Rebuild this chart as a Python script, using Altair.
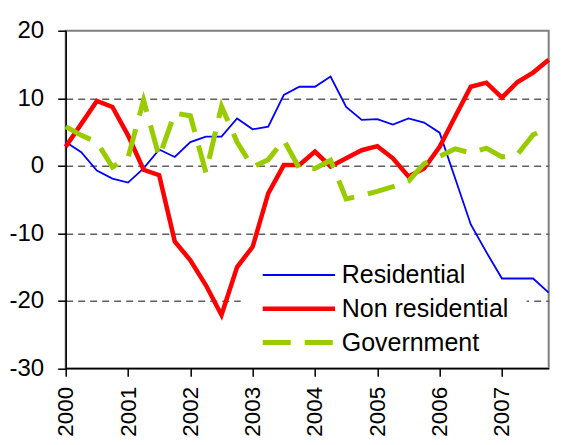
import altair as alt
import pandas as pd

# ---- data (quarterly, 2000Q1 .. 2007Q4), y-o-y % change ----
quarters = [2000.0, 2000.25, 2000.5, 2000.75,
            2001.0, 2001.25, 2001.5, 2001.75,
            2002.0, 2002.25, 2002.5, 2002.75,
            2003.0, 2003.25, 2003.5, 2003.75,
            2004.0, 2004.25, 2004.5, 2004.75,
            2005.0, 2005.25, 2005.5, 2005.75,
            2006.0, 2006.25, 2006.5, 2006.75,
            2007.0, 2007.25, 2007.5, 2007.75]

residential = [3.5, 2.0, -0.7, -1.9, -2.5, -0.4, 2.4, 1.3,
               3.5, 4.3, 4.3, 7.0, 5.4, 5.8, 10.5, 11.7,
               11.7, 13.2, 8.7, 6.8, 6.9, 6.1, 7.0, 6.4,
               4.9, -1.9, -8.7, -12.8, -16.7, -16.7, -16.7, -18.8]

non_residential = [2.8, 6.2, 9.6, 8.7, 4.5, -0.6, -1.4, -11.2,
                   -14.0, -17.7, -22.1, -15.0, -12.0, -4.1, 0.1, 0.1,
                   2.1, -0.1, 1.1, 2.3, 2.9, 1.1, -1.6, -0.4,
                   2.8, 7.3, 11.7, 12.3, 10.1, 12.4, 13.8, 15.7]

government = [5.8, 4.5, 3.5, -0.2, 1.2, 9.7, 1.3, 7.8,
              7.4, -1.0, 8.8, 3.5, -0.2, 0.9, 3.8, -0.4,
              -0.4, 0.8, -4.9, -4.4, -3.8, -3.1, -2.3, 0.3,
              1.4, 2.5, 1.9, 2.6, 1.3, 1.7, 4.6, 5.6]

series_names = ["Residential", "Non residential", "Government"]
series_colors = ["#0000FF", "#FF0000", "#99CC00"]
year_ticks = [2000, 2001, 2002, 2003, 2004, 2005, 2006, 2007]
y_ticks = [20, 10, 0, -10, -20, -30]

rows = []
for name, vals in zip(series_names, [residential, non_residential, government]):
    for q, v in zip(quarters, vals):
        rows.append({"t": q, "v": v, "series": name})
df = pd.DataFrame(rows)

FONT = "Liberation Sans"

legend = alt.Legend(
    title=None, orient="none", legendX=220.7, legendY=231.8,
    symbolType="M-4,0H4", symbolSize=327,
    symbolStrokeWidth={"expr": "datum.value === 'Residential' ? 1.8 : (datum.value === 'Government' ? 5 : 4.5)"},
    symbolDash={"expr": "datum.value === 'Government' ? [28, 14] : [1, 0]"},
    symbolOffset=0, labelOffset=30.3, rowPadding=7.8, padding=0,
    labelFont=FONT, labelFontSize=25, labelColor="black", labelLimit=400,
)

base = alt.Chart(df).encode(
    x=alt.X("t:Q",
            scale=alt.Scale(domain=[2000, 2007.75], nice=False, zero=False),
            axis=alt.Axis(values=year_ticks, format="d", title=None, grid=False,
                          labelAngle=270, labelAlign="right", labelBaseline="middle",
                          labelFontSize=22.5, labelPadding=10,
                          labelFlush=False, labelOverlap=False)),
    y=alt.Y("v:Q",
            scale=alt.Scale(domain=[-30, 20], nice=False, zero=False),
            axis=alt.Axis(values=y_ticks, title=None, grid=True,
                          labelExpr="datum.value < 0 ? '-' + abs(datum.value) : '' + datum.value",
                          gridOpacity={"condition": {"test": "datum.value === 20 || datum.value === -30",
                                                     "value": 0},
                                       "value": 1},
                          labelPadding=14, labelFlush=False)),
    color=alt.Color("series:N",
                    scale=alt.Scale(domain=series_names, range=series_colors),
                    legend=legend),
)

# white legend background that hides the gridline behind the legend
legend_bg = alt.Chart(pd.DataFrame({"k": [0]})).mark_rect(color="white").encode(
    x=alt.value(175), x2=alt.value(461), y=alt.value(262), y2=alt.value(278)
)

res = base.transform_filter("datum.series === 'Residential'").mark_line().encode(
    strokeWidth=alt.value(1.8))
nonres = base.transform_filter("datum.series === 'Non residential'").mark_line().encode(
    strokeWidth=alt.value(4.5))
gov = base.transform_filter("datum.series === 'Government'").mark_line().encode(
    strokeWidth=alt.value(5), strokeDash=alt.value([28, 14]))

chart = alt.layer(legend_bg, res, nonres, gov).properties(
    width=483, height=337.6,
    autosize=alt.AutoSizeParams(type="none"),
    padding={"left": 57.7, "top": 22.7, "right": 8, "bottom": 68.7},
    background="white",
).configure_view(
    stroke="#808080", strokeWidth=2
).configure_axis(
    domainColor="black", domainWidth=1.5,
    tickColor="black", tickWidth=1.5, tickSize=8,
    labelFont=FONT, labelFontSize=24, labelColor="black",
    gridColor="#606060", gridDash=[7, 5], gridWidth=1.5,
)

chart.save("out.html", embed_options={"renderer": "svg", "actions": False})
